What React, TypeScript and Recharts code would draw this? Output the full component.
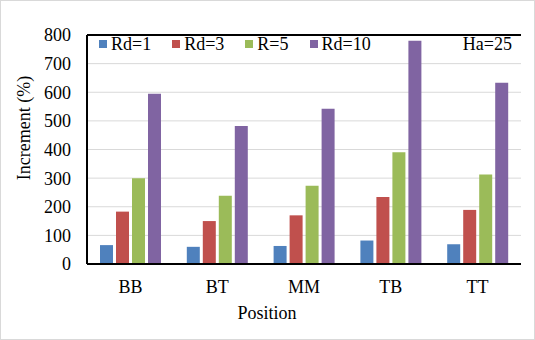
import { BarChart, Bar, XAxis, YAxis, CartesianGrid, Legend, ReferenceLine } from 'recharts';

const positions = ['BB', 'BT', 'MM', 'TB', 'TT'];
const rd1 = [66, 60, 63, 82, 69];
const rd3 = [183, 150, 170, 234, 189];
const r5 = [300, 238, 273, 390, 313];
const rd10 = [595, 482, 542, 780, 633];
const yTicks = [0, 100, 200, 300, 400, 500, 600, 700, 800];

const series = [
  { key: 'rd1', name: 'Rd=1', color: '#4F81BD' },
  { key: 'rd3', name: 'Rd=3', color: '#C0504D' },
  { key: 'r5', name: 'R=5', color: '#9BBB59' },
  { key: 'rd10', name: 'Rd=10', color: '#8064A2' },
];

const data = positions.map((p, i) => ({
  position: p,
  rd1: rd1[i],
  rd3: rd3[i],
  r5: r5[i],
  rd10: rd10[i],
}));

const FONT = "'Liberation Serif', 'Times New Roman', serif";

function LegendContent() {
  return (
    <div style={{ display: 'flex', fontFamily: FONT, fontSize: 18, lineHeight: '18px', color: '#000' }}>
      {series.map((s) => (
        <div key={s.key} style={{ display: 'flex', alignItems: 'center', marginRight: 21 }}>
          <span style={{ width: 8, height: 8, background: s.color, marginRight: 4, display: 'inline-block' }} />
          <span>{s.name}</span>
        </div>
      ))}
    </div>
  );
}

export default function App() {
  return (
    <div style={{ position: 'fixed', left: 0, top: 0, width: 535, height: 340, background: '#fff', fontFamily: FONT }}>
      <BarChart
        width={535}
        height={340}
        data={data}
        margin={{ top: 17, right: 14, left: 0, bottom: 0 }}
        barCategoryGap={13}
        barGap={3}
        style={{ fontFamily: FONT }}
      >
        <CartesianGrid vertical={false} stroke="#d9d9d9" />
        <XAxis
          dataKey="position"
          height={76}
          axisLine={{ stroke: '#000', strokeWidth: 2 }}
          tickLine={false}
          tickSize={6}
          tickMargin={10}
          tick={{ fill: '#000', fontSize: 18, fontFamily: FONT }}
          label={{
            content: () => (
              <text x={267} y={319} textAnchor="middle" fill="#000" fontSize={18} fontFamily={FONT}>
                Position
              </text>
            ),
          }}
        />
        <YAxis
          width={87}
          domain={[0, 800]}
          ticks={yTicks}
          interval={0}
          axisLine={{ stroke: '#000', strokeWidth: 2 }}
          tickLine={false}
          tickSize={6}
          tickMargin={10}
          tick={{ fill: '#000', fontSize: 18, fontFamily: FONT }}
          label={{
            content: () => (
              <text
                x={30}
                y={128}
                transform="rotate(-90 30 128)"
                textAnchor="middle"
                fill="#000"
                fontSize={18}
                fontFamily={FONT}
              >
                Increment (%)
              </text>
            ),
          }}
        />
        <YAxis yAxisId="right" orientation="right" width={0} domain={[0, 800]} tick={false} tickLine={false} axisLine={{ stroke: '#000', strokeWidth: 2 }} />
        <ReferenceLine
          y={800}
          stroke="#000"
          strokeWidth={2}
          label={{
            content: () => (
              <text x={512} y={50} textAnchor="end" fill="#000" fontSize={18} fontFamily={FONT}>
                Ha=25
              </text>
            ),
          }}
        />
        <Legend
          verticalAlign="top"
          content={<LegendContent />}
          wrapperStyle={{ position: 'absolute', top: 35, left: 99, width: 'auto' }}
        />
        {series.map((s) => (
          <Bar key={s.key} dataKey={s.key} name={s.name} fill={s.color} isAnimationActive={false} />
        ))}
      </BarChart>
      <div style={{ position: 'absolute', inset: 0, border: '1px solid #d9d9d9', pointerEvents: 'none' }} />
    </div>
  );
}
